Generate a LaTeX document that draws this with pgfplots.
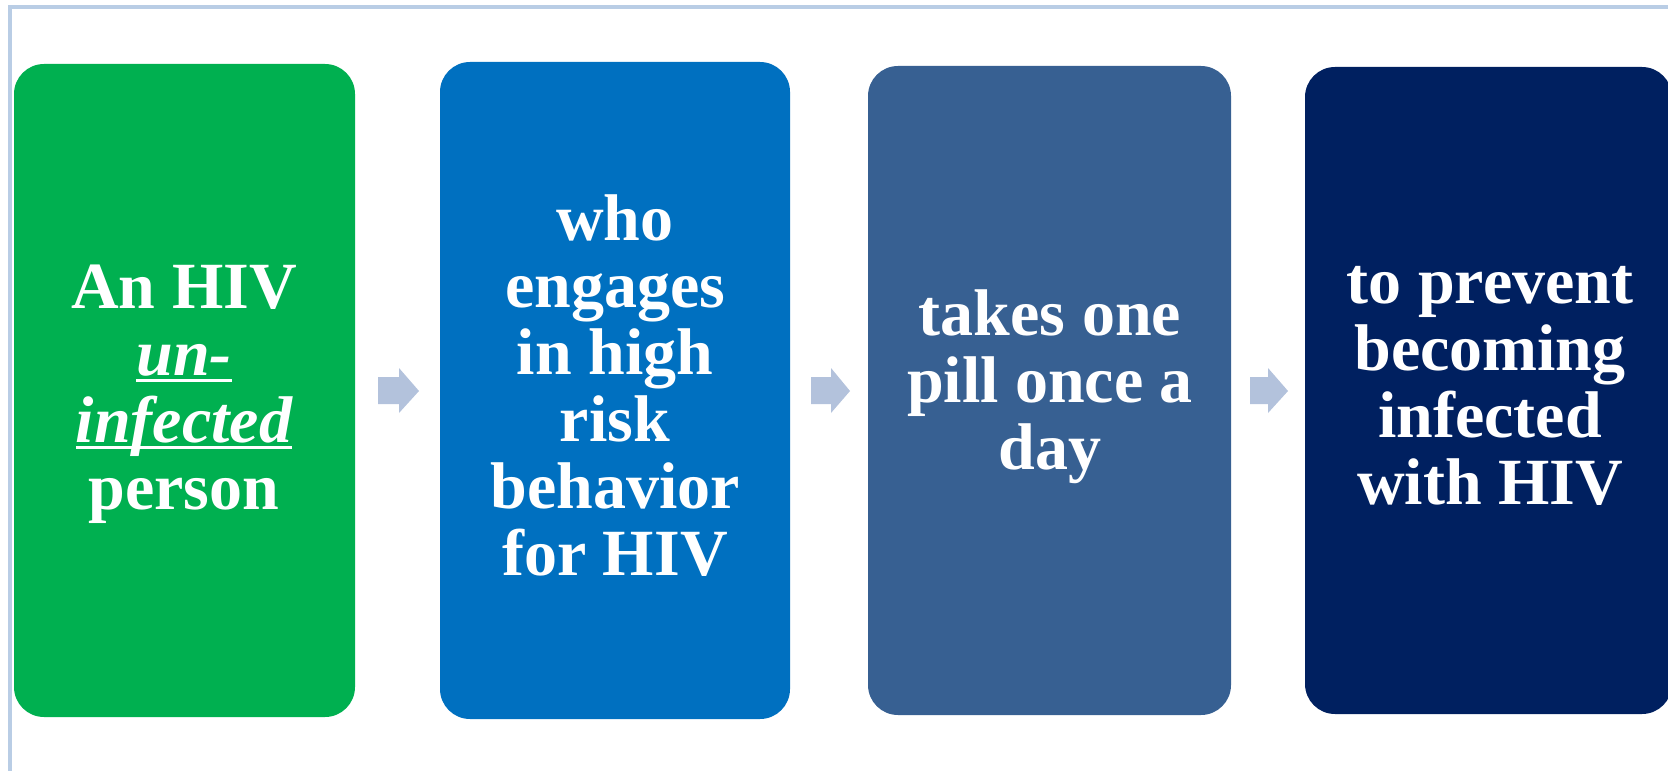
\documentclass[border=0pt]{standalone}
\usepackage{pgfplots}
\pgfplotsset{compat=1.18}
\usepackage{fontspec}
\setmainfont{Liberation Serif}
\definecolor{bordc}{HTML}{B9CDE5}
\definecolor{arrc}{HTML}{B3C2DC}
\definecolor{cA}{HTML}{00B050}
\definecolor{cB}{HTML}{0070C0}
\definecolor{cC}{HTML}{376092}
\definecolor{cD}{HTML}{002060}
\newcommand{\ul}[1]{{\setbox0\hbox{#1}\rlap{\rule[-3.5pt]{\wd0}{1.6pt}}\box0}}
\tikzset{lbl/.style={text=white, align=center, inner sep=0pt, font=\bfseries\fontsize{33}{33.5}\selectfont}}
\begin{document}
\begin{tikzpicture}
\begin{axis}[
  width=834pt, height=385pt, scale only axis,
  xmin=0, xmax=1668, ymin=0, ymax=770, y dir=reverse,
  hide axis, clip=true
]
% frame
\addplot[draw=bordc, line width=2pt, forget plot] coordinates {(1720,7) (10,7) (10,800)};
% boxes
\addplot[draw=none, fill=cA, rounded corners=15pt, forget plot] coordinates {(184,64) (355,64) (355,717) (14,717) (14,64)} -- cycle;
\addplot[draw=none, fill=cB, rounded corners=15pt, forget plot] coordinates {(615,62) (790,62) (790,719) (440,719) (440,62)} -- cycle;
\addplot[draw=none, fill=cC, rounded corners=15pt, forget plot] coordinates {(1050,66) (1231,66) (1231,715) (868,715) (868,66)} -- cycle;
\addplot[draw=none, fill=cD, rounded corners=15pt, forget plot] coordinates {(1490,67) (1672,67) (1672,714) (1305,714) (1305,67)} -- cycle;
% arrows
\addplot[draw=none, fill=arrc, forget plot] coordinates {(378,377) (399,377) (399,368) (419,391) (399,413) (399,404) (378,404)} -- cycle;
\addplot[draw=none, fill=arrc, forget plot] coordinates {(811,377) (831,377) (831,368) (850,391) (831,413) (831,404) (811,404)} -- cycle;
\addplot[draw=none, fill=arrc, forget plot] coordinates {(1250,377) (1268,377) (1268,368) (1288,391) (1268,413) (1268,404) (1250,404)} -- cycle;
% texts
\node[lbl] at (axis cs:184,394) {An HIV\\\ul{\itshape un-}\\\ul{\itshape infected}\\person};
\node[lbl] at (axis cs:615,386) {who\\engages\\in high\\risk\\behavior\\for HIV};
\node[lbl] at (axis cs:1050,387) {takes one\\pill once a\\day};
\node[lbl] at (axis cs:1490,386) {to prevent\\becoming\\infected\\with HIV};
\end{axis}
\pgfresetboundingbox
\path (current axis.south west) rectangle (current axis.north east);
\end{tikzpicture}
\end{document}
